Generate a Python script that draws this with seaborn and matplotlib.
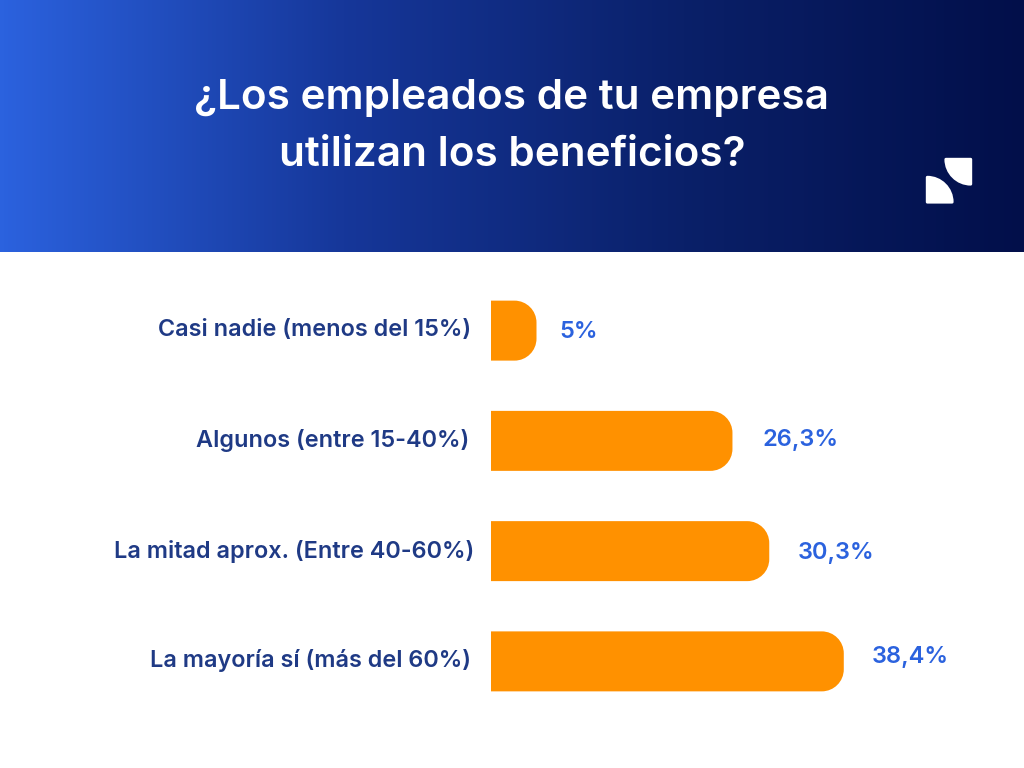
import numpy as np
import matplotlib
matplotlib.use('Agg')
import matplotlib.pyplot as plt
import seaborn as sns
import pandas as pd
from matplotlib.colors import LinearSegmentedColormap
from matplotlib.patches import PathPatch
from matplotlib.path import Path
from matplotlib.transforms import ScaledTranslation

categories = ['Casi nadie (menos del 15%)', 'Algunos (entre 15-40%)',
              'La mitad aprox. (Entre 40-60%)', 'La mayoría sí (más del 60%)']
values = [5, 26.3, 30.3, 38.4]
value_labels = ['5%', '26,3%', '30,3%', '38,4%']
title = '¿Los empleados de tu empresa\nutilizan los beneficios?'

sns.set_theme(style='white')
plt.rcParams['font.family'] = ['Inter', 'DejaVu Sans']

W, H = 1024, 768
ORANGE = '#FF9100'
NAVY = '#1F3A85'
BLUE = '#2B62DE'

fig = plt.figure(figsize=(W / 100, H / 100), dpi=100, facecolor='white')


def px_axes(left, top, right, bottom):
    return fig.add_axes([left / W, 1 - bottom / H, (right - left) / W, (bottom - top) / H])


# header band with gradient
head = px_axes(0, 0, W, 252)
cmap = LinearSegmentedColormap.from_list('head', ['#2B62DE', '#16379A', '#0A2069', '#020F4A'])
head.imshow(np.linspace(0, 1, 512).reshape(1, -1), aspect='auto', cmap=cmap,
            extent=(0, W, 252, 0))
head.set_axis_off()
head.text(512, 126.5, title, ha='center', va='center', color='white', fontsize=30.4,
          fontweight='semibold', linespacing=1.65)

# logo, two quarter discs
k = 0.5523
r = 25
for cx, cy, sx, sy in [(927.2, 202.2, 1, -1), (970.8, 159.2, -1, 1)]:
    verts = [(cx, cy), (cx, cy + sy * r),
             (cx + sx * k * r, cy + sy * r), (cx + sx * r, cy + sy * k * r), (cx + sx * r, cy),
             (cx, cy)]
    codes = [Path.MOVETO, Path.LINETO, Path.CURVE4, Path.CURVE4, Path.CURVE4, Path.CLOSEPOLY]
    head.add_patch(PathPatch(Path(verts, codes), fc='white', ec='white', lw=2, joinstyle='round'))

# bar chart
ax = px_axes(490.5, 275.5, W, 716.5)
df = pd.DataFrame({'cat': categories, 'val': values})
sns.barplot(data=df, x='val', y='cat', color=ORANGE, width=0.544, ax=ax, saturation=1)
ax.set_xlim(0, 533.5 / 9.2)
ax.set_ylim(3.5, -0.5)
ax.set_xlabel('')
ax.set_ylabel('')
ax.set_xticks([])
sns.despine(ax=ax, left=True, bottom=True)
ax.patch.set_alpha(0)

# swap the square bars for ones with rounded right corners
rx = 22 / 9.2
ry = 22 / 110.33
for bar in list(ax.patches):
    x0, y0 = bar.get_x(), bar.get_y()
    x1, y1 = x0 + bar.get_width(), y0 + bar.get_height()
    r_x = min(rx, bar.get_width())
    verts = [(x0, y0), (x1 - r_x, y0), (x1 - r_x * (1 - k), y0), (x1, y0 + ry * (1 - k)), (x1, y0 + ry),
             (x1, y1 - ry), (x1, y1 - ry * (1 - k)), (x1 - r_x * (1 - k), y1), (x1 - r_x, y1),
             (x0, y1), (x0, y0)]
    codes = [Path.MOVETO, Path.LINETO, Path.CURVE4, Path.CURVE4, Path.CURVE4,
             Path.LINETO, Path.CURVE4, Path.CURVE4, Path.CURVE4,
             Path.LINETO, Path.CLOSEPOLY]
    ax.add_patch(PathPatch(Path(verts, codes), fc=ORANGE, ec='none'))
    bar.set_visible(False)

# category labels stay tick labels, nudged per row like the original
ax.tick_params(axis='y', length=0, pad=14.4)
nudges = [(1, 3), (-1, 3), (4, 2), (1, 3)]
for lab, (dx, dy) in zip(ax.get_yticklabels(), nudges):
    lab.set_color(NAVY)
    lab.set_fontsize(16.9)
    lab.set_fontweight('semibold')
    lab.set_transform(lab.get_transform() + ScaledTranslation(dx / 100, dy / 100, fig.dpi_scale_trans))

gaps = [22.5, 30.5, 28, 28]
lifts = [-1, 1, -2, 4]
for i, (v, txt) in enumerate(zip(values, value_labels)):
    ax.annotate(txt, xy=(v, i), xytext=(gaps[i] * 0.72, lifts[i] * 0.72), textcoords='offset points',
                ha='left', va='center', color=BLUE, fontsize=17, fontweight='semibold')

fig.savefig('out.png', dpi=100)
